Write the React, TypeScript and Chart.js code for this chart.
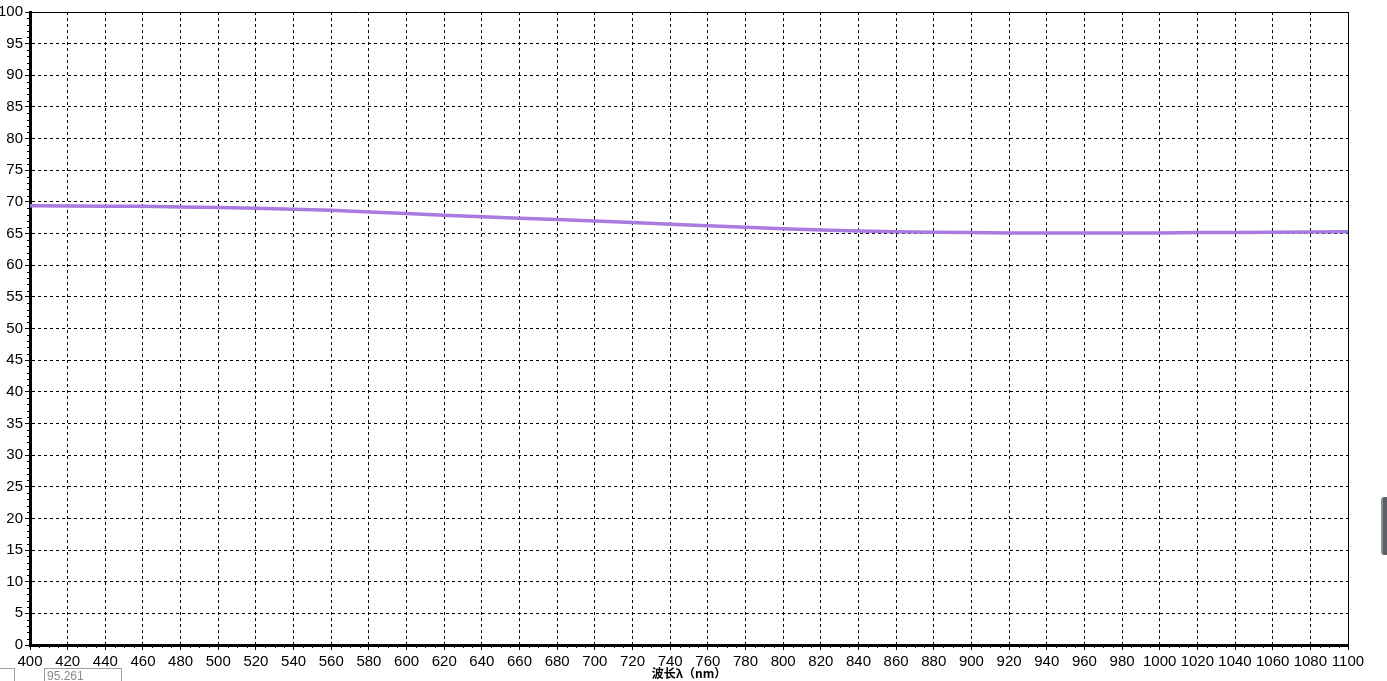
import React, { useEffect, useRef } from "react";
import { Chart, registerables } from "chart.js";

Chart.register(...registerables);

const wavelengths = [
  400, 420, 440, 460, 480, 500, 520, 540, 560, 580, 600, 620, 640, 660, 680, 700, 720, 740,
  760, 780, 800, 820, 840, 860, 880, 900, 920, 940, 960, 980, 1000, 1020, 1040, 1060, 1080, 1100,
];
const transmittance = [
  69.4, 69.35, 69.3, 69.3, 69.2, 69.1, 69.0, 68.85, 68.7, 68.4, 68.15, 67.9, 67.65, 67.4, 67.2,
  67.0, 66.75, 66.45, 66.25, 66.0, 65.75, 65.55, 65.4, 65.3, 65.2, 65.15, 65.1, 65.1, 65.1, 65.1,
  65.1, 65.15, 65.15, 65.2, 65.25, 65.3,
];
const xTitle = "波长λ（nm）";
const readout = "95.261";

const W = 1387;
const H = 681;

const frame = {
  id: "frameAndMinorTicks",
  afterDraw(chart: any) {
    const { ctx, chartArea, scales } = chart;
    const xs = scales.x;
    const ys = scales.y;
    ctx.save();
    ctx.strokeStyle = "#000";
    ctx.lineWidth = 1;
    ctx.setLineDash([]);
    ctx.beginPath();
    ctx.moveTo(chartArea.left, Math.round(chartArea.top) + 0.5);
    ctx.lineTo(Math.round(chartArea.right) + 0.5, Math.round(chartArea.top) + 0.5);
    ctx.lineTo(Math.round(chartArea.right) + 0.5, chartArea.bottom);
    ctx.stroke();
    ctx.beginPath();
    for (let v = 400; v <= 1100; v += 5) {
      if (v % 20 === 0) continue;
      const px = Math.round(xs.getPixelForValue(v)) + 0.5;
      ctx.moveTo(px, chartArea.bottom);
      ctx.lineTo(px, chartArea.bottom + 3);
    }
    for (let v = 0; v <= 100; v += 1) {
      if (v % 5 === 0) continue;
      const py = Math.round(ys.getPixelForValue(v)) + 0.5;
      ctx.moveTo(chartArea.left - 3, py);
      ctx.lineTo(chartArea.left, py);
    }
    ctx.stroke();
    ctx.restore();
  },
};

export default function App() {
  const ref = useRef<HTMLCanvasElement | null>(null);
  useEffect(() => {
    if (!ref.current) return;
    const chart = new Chart(ref.current, {
      type: "line",
      data: {
        datasets: [
          {
            data: wavelengths.map((w, i) => ({ x: w, y: transmittance[i] })),
            borderColor: "#a97ae0",
            borderWidth: 3.5,
            pointRadius: 0,
            tension: 0,
            fill: false,
          },
        ],
      },
      options: {
        responsive: false,
        animation: false,
        plugins: { legend: { display: false }, tooltip: { enabled: false } },
        layout: { padding: { top: 12, right: 39, left: 0, bottom: 0 } },
        scales: {
          x: {
            type: "linear",
            min: 400,
            max: 1100,
            afterFit: (s: any) => {
              s.height = 36;
            },
            ticks: {
              stepSize: 20,
              autoSkip: false,
              maxRotation: 0,
              color: "#000",
              padding: 3,
              callback: (v: any) => String(v),
              font: { family: "'Liberation Sans', Arial, sans-serif", size: 15 },
            },
            grid: { color: "#000", lineWidth: 1, tickLength: 5, tickColor: "#000" },
            border: { display: true, color: "#000", width: 3, dash: [3, 3] },
            title: {
              display: true,
              text: xTitle,
              color: "#000",
              padding: { top: 0, bottom: 0 },
              font: { family: "'Noto Sans CJK SC', sans-serif", size: 12, weight: "bold" },
            },
          },
          y: {
            type: "linear",
            min: 0,
            max: 100,
            afterFit: (s: any) => {
              s.width = 30;
            },
            ticks: {
              stepSize: 5,
              color: "#000",
              padding: 2,
              callback: (v: any) => String(v),
              font: { family: "'Liberation Sans', Arial, sans-serif", size: 15 },
            },
            grid: { color: "#000", lineWidth: 1, tickLength: 5, tickColor: "#000" },
            border: { display: true, color: "#000", width: 3, dash: [3, 3] },
          },
        },
      },
      plugins: [frame],
    });
    return () => chart.destroy();
  }, []);

  return (
    <div style={{ position: "fixed", left: 0, top: 0, width: W, height: H, background: "#fff", overflow: "hidden" }}>
      <canvas ref={ref} width={W} height={H} style={{ position: "absolute", left: 0, top: 0, width: W, height: H }} />
      <div
        style={{
          position: "absolute",
          left: -2,
          top: 668,
          width: 16,
          height: 20,
          borderTop: "1px solid #a0a0a0",
          borderRight: "1px solid #a0a0a0",
        }}
      />
      <div
        style={{
          position: "absolute",
          left: 44,
          top: 668,
          width: 78,
          height: 20,
          borderTop: "1px solid #a0a0a0",
          borderLeft: "1px solid #a0a0a0",
          borderRight: "1px solid #a0a0a0",
          fontFamily: "'Liberation Sans', Arial, sans-serif",
          fontSize: 12,
          color: "#8a8a8a",
          paddingLeft: 2,
          lineHeight: "14px",
          boxSizing: "border-box",
        }}
      >
        {readout}
      </div>
      <div
        style={{
          position: "absolute",
          left: 1381,
          top: 497,
          width: 10,
          height: 58,
          background: "#5b5f66",
          borderRadius: 3,
          borderLeft: "2px solid #8a8f96",
        }}
      />
    </div>
  );
}
